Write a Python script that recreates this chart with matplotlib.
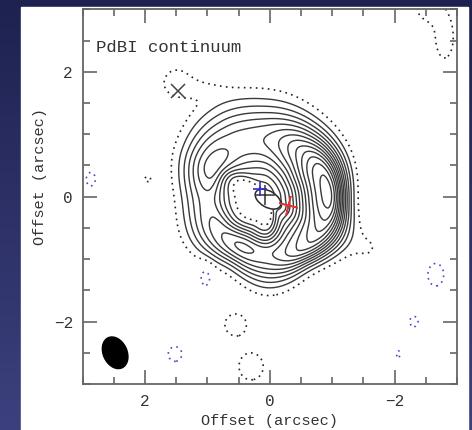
import numpy as np
import matplotlib
matplotlib.use("Agg")
import matplotlib.pyplot as plt
from matplotlib.patches import Ellipse, Rectangle
from matplotlib.ticker import MultipleLocator, FixedLocator

plt.rcParams['font.family'] = ['Liberation Mono', 'DejaVu Sans Mono']

# ---------------- data ----------------
# ring model of the continuum emission (azimuth measured on the sky image,
# 0 deg = image right, 90 deg = image up), values in contour units
node_angle_deg = np.arange(0, 360, 30)
ring_peak = np.array([14.4, 13.6, 10.0, 7.2, 6.7, 7.6, 5.6, 6.6, 8.25, 7.8, 10.0, 12.2])
ring_radius = np.array([0.97, 0.95, 0.93, 0.93, 1.00, 1.02, 0.97, 0.92, 0.87, 0.88, 0.93, 0.95])
ring_inner_width = np.array([0.43, 0.42, 0.43, 0.43, 0.42, 0.22, 0.24, 0.22, 0.23, 0.24, 0.43, 0.42])
ring_outer_width = np.array([0.206, 0.26, 0.33, 0.42, 0.445, 0.35, 0.286, 0.31, 0.243, 0.327, 0.223, 0.263])
ring_center = (0.03, -0.04)

# extra low-level lobes / noise blobs (x, y in arcsec, widths, amplitude)
blob_x = [1.50, 1.15, -1.58, -2.80, -2.50, 0.55, 0.30, 1.96,
          2.87, 1.03, 1.52, -2.66, -2.31, -2.06]
blob_y = [1.85, 1.74, -0.82, 2.55, 3.00, -2.05, -2.72, 0.28,
          0.28, -1.28, -2.52, -1.25, -2.00, -2.52]
blob_sx = [0.20, 0.30, 0.25, 0.17, 0.18, 0.175, 0.20, 0.07,
           0.08, 0.09, 0.12, 0.14, 0.08, 0.04]
blob_sy = [0.20, 0.13, 0.25, 0.40, 0.18, 0.175, 0.22, 0.06,
           0.12, 0.16, 0.13, 0.20, 0.10, 0.07]
blob_amp = [1.4, 0.8, 1.0, 1.4, 1.25, 1.6, 1.6, 1.2,
            -1.5, -1.5, -1.5, -1.5, -1.4, -1.3]

pos_levels = list(range(2, 15))
low_level = [1]
neg_level = [-1]

xticks_major = [2, 0, -2]
yticks_major = [-2, 0, 2]

# markers
x_marker = (1.48, 1.69)
blue_cross = (0.16, 0.13)
black_cross = (0.07, 0.03)
red_cross = (-0.29, -0.14)
star_ellipse = dict(xy=(0.03, -0.04), width=0.45, height=0.26, angle=30)
beam = dict(xy=(2.48, -2.50), width=0.38, height=0.53, angle=-25)


def periodic_spline(vals, theta_deg):
    vals = np.asarray(vals, float)
    n = len(vals)
    t = (theta_deg % 360.0) / (360.0 / n)
    i = np.floor(t).astype(int)
    f = t - i
    p0 = vals[(i - 1) % n]; p1 = vals[i % n]
    p2 = vals[(i + 1) % n]; p3 = vals[(i + 2) % n]
    return 0.5 * (2 * p1 + (-p0 + p2) * f + (2 * p0 - 5 * p1 + 4 * p2 - p3) * f ** 2
                  + (-p0 + 3 * p1 - 3 * p2 + p3) * f ** 3)


gx = np.linspace(-3.2, 3.2, 521)
gy = np.linspace(-3.2, 3.2, 521)
X, Y = np.meshgrid(gx, gy)
U = -(X - ring_center[0])
V = Y - ring_center[1]
R = np.hypot(U, V)
TH = np.degrees(np.arctan2(V, U)) % 360

A = periodic_spline(ring_peak, TH)
R0 = periodic_spline(ring_radius, TH)
WI = periodic_spline(ring_inner_width, TH)
WO = periodic_spline(ring_outer_width, TH)
D = R - R0
S = np.where(D < 0, WI, WO)
F = A * np.exp(-0.5 * (D / S) ** 2)
for bx, by, sx, sy, am in zip(blob_x, blob_y, blob_sx, blob_sy, blob_amp):
    F = F + am * np.exp(-0.5 * (((X - bx) / sx) ** 2 + ((Y - by) / sy) ** 2))

# ---------------- figure ----------------
W, H = 472, 430
fig = plt.figure(figsize=(W / 100, H / 100), dpi=100)

bg = fig.add_axes([0, 0, 1, 1])
grad = np.linspace(0, 1, 256)[:, None]
top = np.array([30, 34, 80]) / 255
bot = np.array([60, 64, 125]) / 255
img = top[None, None, :] * (1 - grad[..., None]) + bot[None, None, :] * grad[..., None]
bg.imshow(img, aspect='auto', extent=[0, 1, 0, 1], origin='upper')
bg.add_patch(Rectangle((21 / W, 0), (468 - 21) / W, (H - 7) / H, color='white'))
bg.set_xlim(0, 1); bg.set_ylim(0, 1)
bg.axis('off')

ax = fig.add_axes([82.7 / W, 1 - 384 / H, 374.3 / W, 374.7 / H])
ax.set_facecolor('white')

cs1 = ax.contour(X, Y, F, levels=pos_levels, colors='#3a3a3a', linewidths=1.0)
cs0 = ax.contour(X, Y, F, levels=low_level, colors='#222222', linewidths=1.2)
cs0.set_linestyle((0, (1, 2.6)))
csn = ax.contour(X, Y, F, levels=neg_level, colors='#4848c8', linewidths=1.2)
csn.set_linestyle((0, (1, 2.6)))

ax.add_patch(Ellipse(star_ellipse['xy'], star_ellipse['width'], star_ellipse['height'],
                     angle=star_ellipse['angle'], facecolor='white', edgecolor='#2a2a2a',
                     lw=1.1, zorder=3))
ax.add_patch(Ellipse(beam['xy'], beam['width'], beam['height'], angle=beam['angle'],
                     facecolor='black', edgecolor='black', zorder=3))

ax.plot(*x_marker, marker='x', ms=10, mew=1.1, color='#444444', zorder=4)
ax.plot(*black_cross, marker='+', ms=15, mew=1.1, color='#333333', zorder=4)
ax.plot(*blue_cross, marker='+', ms=10, mew=1.2, color='#3030d0', zorder=5)
ax.plot(*red_cross, marker=(4, 2, -14), ms=14, mew=1.1, color='#e03535', zorder=5)

ax.set_xlim(3, -3)
ax.set_ylim(-3, 3)
ax.xaxis.set_major_locator(FixedLocator(xticks_major))
ax.yaxis.set_major_locator(FixedLocator(yticks_major))
ax.xaxis.set_minor_locator(MultipleLocator(0.5))
ax.yaxis.set_minor_locator(MultipleLocator(0.5))
ax.set_xticklabels(['2', '0', '\u22122'])
ax.set_yticklabels(['\u22122', '0', '2'])
ax.tick_params(which='both', direction='in', top=True, right=True, color='#666666',
               labelcolor='#333333', labelsize=11.5)
ax.tick_params(which='major', length=10, width=1.2, pad=7)
ax.tick_params(which='minor', length=5, width=1.2)
for sp in ax.spines.values():
    sp.set_color('#666666')
    sp.set_linewidth(1.3)

ax.set_xlabel('Offset (arcsec)', fontsize=11, color='#333333')
ax.set_ylabel('Offset (arcsec)', fontsize=11, color='#333333')
ax.xaxis.label.set_va('center')
ax.yaxis.label.set_va('center')
ax.xaxis.set_label_coords(0.5, -0.10)
ax.yaxis.set_label_coords(-0.114, 0.553)

ax.text(0.0355, 0.8975, 'PdBI continuum', transform=ax.transAxes, ha='left', va='center',
        fontsize=12.5, color='#333333')

fig.savefig('out.png', dpi=100)
